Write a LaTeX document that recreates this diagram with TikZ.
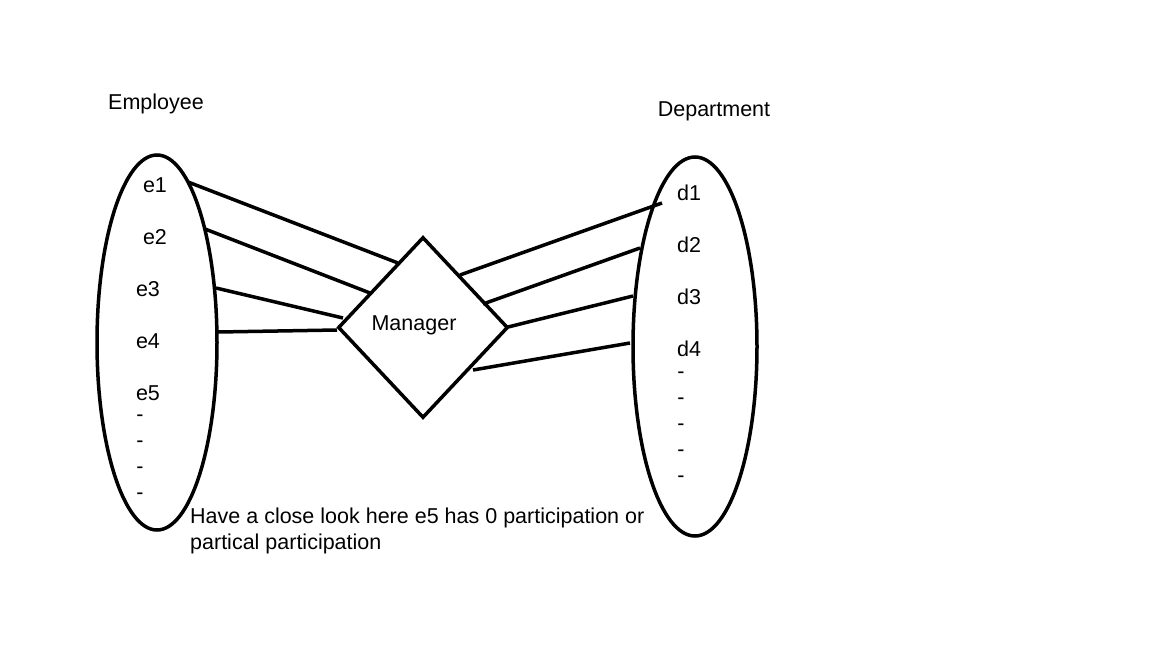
\documentclass[tikz,border=0pt]{standalone}
\usepackage{fontspec}
\setmainfont{Liberation Sans}
\usetikzlibrary{shapes.geometric}

\begin{document}
\begin{tikzpicture}[x=1pt, y=-1pt,
    setnode/.style={ellipse, draw, line width=3.5pt, inner sep=0pt},
    relnode/.style={diamond, draw, line width=3.5pt, inner sep=0pt, minimum width=170pt, minimum height=181pt},
    itemnode/.style={inner sep=0pt, font=\fontsize{21.5}{26}\selectfont},
    link/.style={line width=3.5pt}]
    \useasboundingbox[fill=white] (0,0) rectangle (1152,648);

    % entity sets
    \node[setnode, minimum width=120pt, minimum height=375pt] (emp) at (157,342.5) {};
    \node[setnode, minimum width=124pt, minimum height=379pt] (dept) at (695,346.5) {};
    \node[relnode] (mgr) at (423,327.5) {};
    \node[itemnode] (mgrtext) at (414,325) {Manager};

    \node[itemnode] (emptitle) at (156,104) {Employee};
    \node[itemnode] (depttitle) at (714,111) {Department};

    % employees
    \node[itemnode] (e1) at (155,185) {e1};
    \node[itemnode] (e2) at (155,237) {e2};
    \node[itemnode] (e3) at (148,289) {e3};
    \node[itemnode] (e4) at (148,341) {e4};
    \node[itemnode] (e5) at (148,393) {e5};
    \foreach \y in {418,444,470,496}
        \node[itemnode] at (140,\y) {-};

    % departments
    \node[itemnode] (d1) at (689,193) {d1};
    \node[itemnode] (d2) at (689,245) {d2};
    \node[itemnode] (d3) at (689,297) {d3};
    \node[itemnode] (d4) at (689,349) {d4};
    \foreach \y in {375,401,427,453,479}
        \node[itemnode] at (681,\y) {-};

    \node[itemnode, anchor=north west, align=left] (note) at (190,508)
        {Have a close look here e5 has 0 participation or\\partical participation};

    % line ends
    \coordinate (le1) at (188,182);  \coordinate (me1) at (398,263);
    \coordinate (le2) at (205,229);  \coordinate (me2) at (370,293);
    \coordinate (le3) at (216,288);  \coordinate (me3) at (343,318);
    \coordinate (le4) at (218,332);  \coordinate (me4) at (337,330);
    \coordinate (md1) at (460,275);  \coordinate (rd1) at (662,203);
    \coordinate (md2) at (483,304);  \coordinate (rd2) at (640,248);
    \coordinate (md3) at (508,327);  \coordinate (rd3) at (633,296);
    \coordinate (md4) at (473,370);  \coordinate (rd4) at (630,343);

    \foreach \i in {1,...,4} {
        \draw[link] (le\i) -- (me\i);
        \draw[link] (md\i) -- (rd\i);
    }
\end{tikzpicture}
\end{document}
